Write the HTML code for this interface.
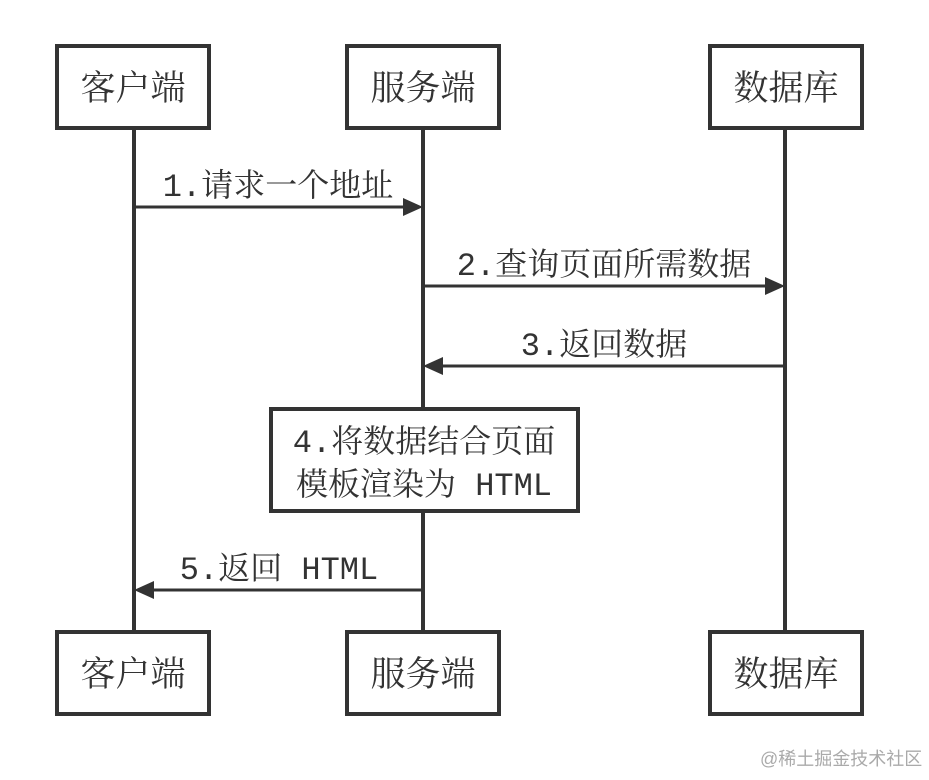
<!DOCTYPE html>
<html><head><meta charset="utf-8"><style>
html,body{margin:0;padding:0;background:#fff;}
svg text{font-family:"Liberation Mono","Noto Serif CJK SC",serif;fill:#333;}
</style></head><body>
<svg width="929" height="775" viewBox="0 0 929 775" xmlns="http://www.w3.org/2000/svg">
<g stroke="#333" stroke-width="4" fill="none">
<line x1="134" y1="128" x2="134" y2="632"/>
<line x1="423" y1="128" x2="423" y2="632"/>
<line x1="785" y1="128" x2="785" y2="632"/>
</g>
<g stroke="#333" stroke-width="4" fill="#fff">
<rect x="57" y="46" width="152" height="82"/>
<rect x="347" y="46" width="152" height="82"/>
<rect x="710" y="46" width="152" height="82"/>
<rect x="57" y="632" width="152" height="82"/>
<rect x="347" y="632" width="152" height="82"/>
<rect x="710" y="632" width="152" height="82"/>
<rect x="271" y="409" width="307" height="102"/>
</g>
<g font-size="35" text-anchor="middle">
<text x="133" y="100">客户端</text>
<text x="423" y="100">服务端</text>
<text x="786" y="100">数据库</text>
<text x="133" y="686">客户端</text>
<text x="423" y="686">服务端</text>
<text x="786" y="686">数据库</text>
</g>
<g stroke="#333" stroke-width="3">
<line x1="134" y1="207" x2="405" y2="207"/>
<line x1="423" y1="286" x2="767" y2="286"/>
<line x1="785" y1="366" x2="441" y2="366"/>
<line x1="423" y1="590" x2="152" y2="590"/>
</g>
<g fill="#333">
<polygon points="423,207 403,198 403,216"/>
<polygon points="785,286 765,277 765,295"/>
<polygon points="423,366 443,357 443,375"/>
<polygon points="134,590 154,581 154,599"/>
</g>
<g font-size="32" text-anchor="middle">
<text x="278" y="196">1.请求一个地址</text>
<text x="604" y="275">2.查询页面所需数据</text>
<text x="604" y="355">3.返回数据</text>
<text x="424" y="452">4.将数据结合页面</text>
<text x="424" y="495">模板渲染为 HTML</text>
<text x="279" y="579">5.返回 HTML</text>
</g>
<text x="760" y="765" font-size="18" style="fill:#aaa;font-family:'Liberation Sans','Noto Sans CJK SC',sans-serif">@稀土掘金技术社区</text>
</svg>
</body></html>
